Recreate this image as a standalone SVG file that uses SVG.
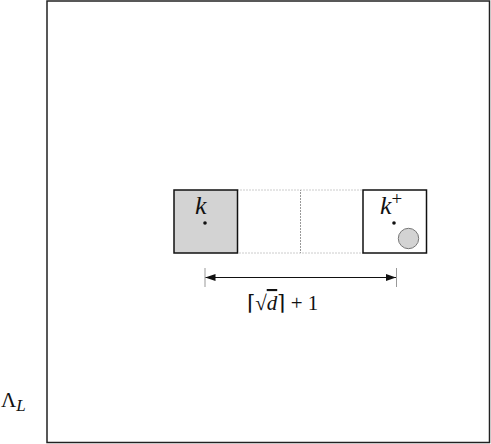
<svg xmlns="http://www.w3.org/2000/svg" width="491" height="444" viewBox="0 0 491 444">
<style>
.frame{fill:none;stroke:#222;stroke-width:1.5}
.dot{fill:none;stroke:#999;stroke-width:1;stroke-dasharray:1,2}
.box{stroke:#111;stroke-width:1.5}
text{font-family:"Liberation Serif","DejaVu Serif",serif;fill:#111}
.it{font-style:italic}
</style>
<defs>
<marker id="ah" viewBox="0 0 10 10" refX="10" refY="5" markerWidth="10" markerHeight="10" markerUnits="userSpaceOnUse" orient="auto-start-reverse">
<path d="M0,1.5 L10,5 L0,8.5 Z" fill="#111"/>
</marker>
</defs>
<rect class="frame" x="47" y="1" width="442.5" height="441.5"/>
<text x="1" y="407" font-size="21" font-family="Liberation Serif, DejaVu Serif, serif">Λ<tspan class="it" font-size="17" dy="4">L</tspan></text>
<g id="dotted-cells">
<rect class="dot" x="237.5" y="190" width="63" height="63"/>
<rect class="dot" x="300.5" y="190" width="63" height="63"/>
</g>
<g id="cell-k">
<rect class="box" x="174" y="190" width="63.5" height="63" fill="#d3d3d3"/>
<circle cx="205" cy="223" r="1.8" fill="#111"/>
<text class="it" x="195" y="214" font-size="26" font-family="Liberation Serif, DejaVu Serif, serif">k</text>
</g>
<g id="cell-kplus">
<rect class="box" x="363" y="190" width="63.5" height="63" fill="#fff"/>
<circle cx="394" cy="223" r="1.8" fill="#111"/>
<circle cx="408.5" cy="238.5" r="10.2" fill="#d3d3d3" stroke="#777" stroke-width="1"/>
<text x="380" y="214" font-size="26" font-family="Liberation Serif, DejaVu Serif, serif"><tspan class="it">k</tspan><tspan font-size="19" dy="-9">+</tspan></text>
</g>
<g id="connectors">
<line x1="205" y1="268" x2="205" y2="287" stroke="#999" stroke-width="1"/>
<line x1="396.5" y1="268" x2="396.5" y2="287" stroke="#999" stroke-width="1"/>
<line x1="205.5" y1="277.5" x2="396" y2="277.5" stroke="#111" stroke-width="1" marker-start="url(#ah)" marker-end="url(#ah)"/>
</g>
<text x="247" y="310" font-size="21" font-family="Liberation Serif, DejaVu Serif, serif">⌈√<tspan class="it" text-decoration="overline">d</tspan>⌉ + 1</text>
</svg>
